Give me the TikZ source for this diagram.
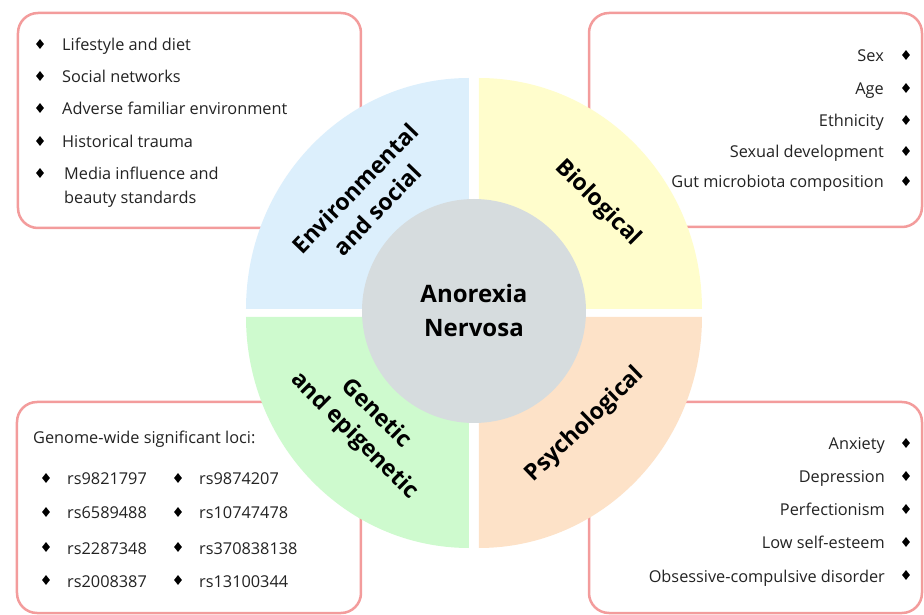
\documentclass[tikz,border=0pt]{standalone}
\usepackage{fontspec}
\setmainfont{Open Sans}
\usetikzlibrary{shapes.geometric}
\definecolor{boxpink}{RGB}{243,156,156}
\definecolor{envblue}{RGB}{220,239,252}
\definecolor{bioyellow}{RGB}{255,253,204}
\definecolor{genegreen}{RGB}{206,250,206}
\definecolor{psypeach}{RGB}{253,226,200}
\definecolor{coregrey}{RGB}{214,220,222}
\definecolor{itemtext}{RGB}{35,35,35}
\tikzstyle{factorbox} = [rectangle, draw=boxpink, line width=2.5pt, rounded corners=20pt, fill=white]
\tikzstyle{item} = [inner sep=0pt, text height=12pt, text depth=4pt, yshift=-3pt, text=itemtext, font=\fontsize{16.3}{24}\selectfont]
\tikzstyle{bullet} = [diamond, fill=black, inner sep=0pt, minimum width=8pt, minimum height=10pt]
\tikzstyle{quadlabel} = [align=center, inner sep=0pt, font=\bfseries\fontsize{23}{31}\selectfont]

\begin{document}
\begin{tikzpicture}[x=1pt, y=1pt]
        \useasboundingbox (-474, -302) rectangle (450, 313);

        % frames behind the wheel
        \node[factorbox, minimum width=343pt, minimum height=215pt] (envbox) at (-284.5, 192.5) {};
        \node[factorbox, minimum width=333pt, minimum height=214pt] (biobox) at (281.5, 193) {};
        \node[factorbox, minimum width=344pt, minimum height=211pt] (genebox) at (-285, -194.5) {};
        \node[factorbox, minimum width=333pt, minimum height=211pt] (psybox) at (281.5, -194.5) {};

        % quadrants
        \fill[envblue] (-5, 4) -- (-228, 4) arc[start angle=180, end angle=90, x radius=223, y radius=231] -- cycle;
        \fill[bioyellow] (5, 4) -- (5, 235) arc[start angle=90, end angle=0, x radius=223, y radius=231] -- cycle;
        \fill[psypeach] (5, -4) -- (228, -4) arc[start angle=0, end angle=-90, x radius=223, y radius=231] -- cycle;
        \fill[genegreen] (-5, -4) -- (-5, -235) arc[start angle=270, end angle=180, x radius=223, y radius=231] -- cycle;

        \node[circle, fill=coregrey, minimum size=224pt, inner sep=0pt, align=center, font=\bfseries\fontsize{24}{34}\selectfont] (core) at (0, 2) {Anorexia\\Nervosa};

        \node[quadlabel, rotate=46] (envlabel) at (-108, 114) {Environmental\\and social};
        \node[quadlabel, rotate=-45] (biolabel) at (124, 110) {Biological};
        \node[quadlabel, rotate=44] (psylabel) at (111, -112) {Psychological};
        \node[quadlabel, rotate=-45] (genelabel) at (-109, -112) {Genetic\\and epigenetic};

        % environmental and social
        \foreach \y/\t [count=\i] in {269/Lifestyle and diet, 237/Social networks, 205/Adverse familiar environment, 172/Historical trauma} {
            \node[bullet] (envdot\i) at (-434, \y) {};
            \node[item, anchor=west] (env\i) at (-412, \y) {\t};
        }
        \node[bullet] (envdot5) at (-434, 140) {};
        \node[item, anchor=north west, align=left, text height=, text depth=, yshift=3pt] (env5) at (-410, 146) {Media influence and\\beauty standards};

        % biological
        \foreach \y/\t [count=\i] in {258/Sex, 225/Age, 193/Ethnicity, 162/Sexual development, 132/Gut microbiota composition} {
            \node[bullet] (biodot\i) at (432, \y) {};
            \node[item, anchor=east] (bio\i) at (410, \y) {\t};
        }

        % psychological
        \foreach \y/\t [count=\i] in {-130/Anxiety, -163/Depression, -196/Perfectionism, -229/Low self-esteem, -262/Obsessive-compulsive disorder} {
            \node[bullet] (psydot\i) at (432, \y) {};
            \node[item, anchor=east] (psy\i) at (411, \y) {\t};
        }

        % genetic and epigenetic
        \node[item, anchor=west] (genehead) at (-441, -124) {Genome-wide significant loci:};
        \foreach \y/\a/\b [count=\i] in {-165/rs9821797/rs9874207, -199/rs6589488/rs10747478, -234/rs2287348/rs370838138, -267/rs2008387/rs13100344} {
            \node[bullet] (genedotA\i) at (-428, \y) {};
            \node[item, anchor=west] (geneA\i) at (-407, \y) {\a};
            \node[bullet] (genedotB\i) at (-296, \y) {};
            \node[item, anchor=west] (geneB\i) at (-275, \y) {\b};
        }
\end{tikzpicture}
\end{document}
